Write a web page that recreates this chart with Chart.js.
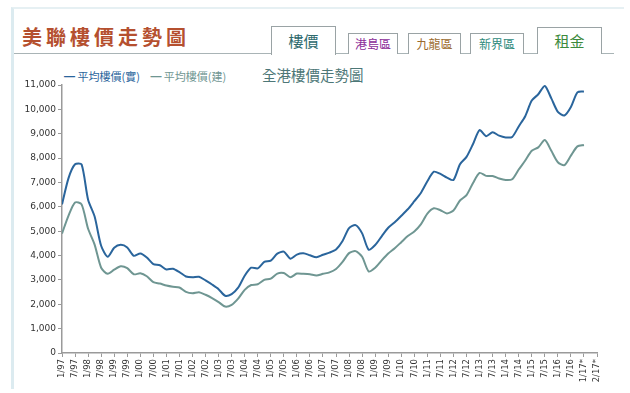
<!DOCTYPE html>
<html>
<head>
<meta charset="utf-8">
<script src="https://cdn.jsdelivr.net/npm/chart.js@4.4.1/dist/chart.umd.min.js"></script>
<style>
  body { margin:0; width:630px; height:393px; background:#fff; overflow:hidden; position:relative;
         font-family:"Noto Sans CJK TC","Noto Sans",sans-serif; }
  #frame { position:absolute; left:11px; top:7px; width:610px; height:380px;
           border-left:3px solid #dcebf0; border-top:2px solid #e6f0f3; }
  #brand { position:absolute; left:22px; top:22px; font-size:20px; font-weight:bold;
           letter-spacing:4px; color:#b5502f; }
  #rule { position:absolute; left:14px; top:53px; width:600px; border-top:1px solid #a9b4b6; }
  .tab { position:absolute; border:1px solid #9aa3a5; border-bottom:none; background:#fff;
         text-align:center; box-sizing:border-box; }
  #legend { position:absolute; left:64px; top:68px; font-size:11px; white-space:nowrap; }
  #legend span { margin-right:8px; }
  #title { position:absolute; left:262px; top:64px; font-size:14.5px; color:#4d7777; }
  #wrap { position:absolute; left:0; top:0; width:630px; height:393px; }
</style>
</head>
<body>
<div id="frame"></div>
<div id="brand">美聯樓價走勢圖</div>
<div id="rule"></div>
<div class="tab" style="left:271px;top:26px;width:65px;height:29px;font-size:15px;color:#2f6b6e;line-height:27px;">樓價</div>
<div class="tab" style="left:348px;top:33px;width:50px;height:21px;font-size:12px;color:#8b2c99;line-height:20px;">港島區</div>
<div class="tab" style="left:408px;top:33px;width:53px;height:21px;font-size:12px;color:#9b6a2c;line-height:20px;">九龍區</div>
<div class="tab" style="left:470px;top:33px;width:54px;height:21px;font-size:12px;color:#2d8a7c;line-height:20px;">新界區</div>
<div class="tab" style="left:537px;top:27px;width:65px;height:27px;font-size:15px;color:#3c8a3c;line-height:25px;">租金</div>
<div id="legend"><span style="color:#2a659c">━ 平均樓價(實)</span> <span style="color:#6f9692">━ 平均樓價(建)</span></div>
<div id="title">全港樓價走勢圖</div>
<div id="wrap"><canvas id="c" width="630" height="393"></canvas></div>
<script>
// half-year tick labels
const tickLabels = ["1/97","7/97","1/98","7/98","1/99","7/99","1/00","7/00","1/01","7/01",
  "1/02","7/02","1/03","7/03","1/04","7/04","1/05","7/05","1/06","7/06",
  "1/07","7/07","1/08","7/08","1/09","7/09","1/10","7/10","1/11","7/11",
  "1/12","7/12","1/13","7/13","1/14","7/14","1/15","7/15","1/16","7/16",
  "1/17*","2/17*"];

// quarterly values from 1/97 to 1/17 (HK$ per sq ft)
const realPrice = [6100,7180,7745,7740,6290,5600,4400,3950,4320,4440,
  4330,3990,4080,3920,3650,3600,3430,3460,3320,3140,
  3110,3130,2980,2810,2620,2350,2420,2680,3170,3500,
  3470,3740,3790,4080,4160,3870,4040,4090,4010,3930,
  4030,4120,4250,4600,5130,5250,4910,4240,4430,4790,
  5140,5370,5630,5900,6230,6570,7050,7440,7350,7200,
  7100,7750,8050,8580,9150,8900,9060,8920,8850,8870,
  9300,9720,10360,10620,10960,10450,9900,9750,10100,10700,10730];

const grossPrice = [4900,5640,6180,6100,5100,4450,3500,3250,3420,3560,
  3480,3230,3270,3150,2910,2850,2770,2720,2690,2510,
  2455,2495,2390,2255,2090,1905,1975,2230,2590,2790,
  2820,3000,3050,3260,3280,3110,3260,3250,3230,3180,
  3250,3310,3450,3740,4100,4180,3950,3350,3500,3800,
  4080,4300,4550,4800,4990,5280,5720,5940,5860,5730,
  5850,6260,6480,6980,7390,7270,7265,7160,7100,7130,
  7530,7900,8300,8440,8740,8300,7830,7710,8100,8480,8540];

// one quarter = half a tick step
const toPoints = arr => arr.map((v, i) => ({ x: i / 2, y: v }));

new Chart(document.getElementById("c"), {
  type: "line",
  data: {
    datasets: [
      { label: "平均樓價(實)", data: toPoints(realPrice), borderColor: "#2a659c",
        borderWidth: 2, pointRadius: 0, tension: 0.25, fill: false },
      { label: "平均樓價(建)", data: toPoints(grossPrice), borderColor: "#6f9692",
        borderWidth: 2, pointRadius: 0, tension: 0.25, fill: false }
    ]
  },
  options: {
    responsive: false,
    animation: false,
    layout: { padding: { top: 85, right: 33, left: 0, bottom: 0 } },
    plugins: { legend: { display: false }, tooltip: { enabled: false } },
    scales: {
      x: {
        type: "linear", min: 0, max: tickLabels.length - 1,
        afterBuildTicks: s => { s.ticks = tickLabels.map((_, i) => ({ value: i })); },
        afterFit: s => { s.height = 40; },
        ticks: {
          autoSkip: false, maxRotation: 90, minRotation: 90, padding: 2,
          color: "#333", font: { family: "DejaVu Sans", size: 8.5 },
          callback: v => tickLabels[v]
        },
        grid: { drawOnChartArea: false, tickLength: 4, color: "#9a9a9a" },
        border: { color: "#9a9a9a", width: 1.5 }
      },
      y: {
        min: 0, max: 11000,
        afterFit: s => { s.width = 62; },
        ticks: {
          stepSize: 500, padding: 2, color: "#333",
          font: { family: "DejaVu Sans", size: 9 },
          callback: v => v.toLocaleString("en-US")
        },
        grid: { drawOnChartArea: false, tickLength: 4, color: "#9a9a9a" },
        border: { color: "#9a9a9a", width: 1.5 }
      }
    }
  }
});
</script>
</body>
</html>
